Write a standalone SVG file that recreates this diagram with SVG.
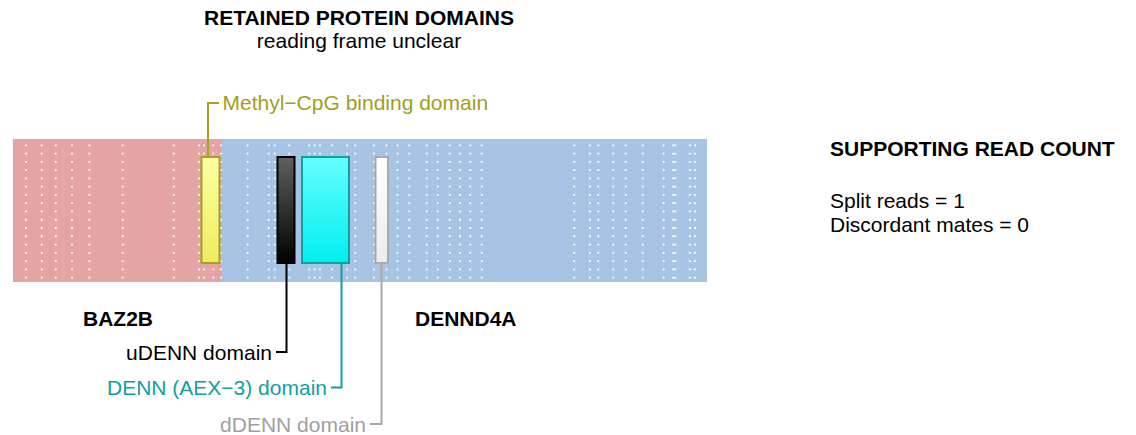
<svg xmlns="http://www.w3.org/2000/svg" width="1136" height="435" viewBox="0 0 1136 435">
<style>
text{font-family:"Liberation Sans",Arial,Helvetica,sans-serif;font-size:21px;fill:#000}
.b{font-weight:bold}
.dot{stroke:#ffffff;stroke-width:1.8;stroke-dasharray:1.8 6.47}
.conn{fill:none;stroke-width:2}
</style>
<defs>
<linearGradient id="gY" x1="0" y1="0" x2="0" y2="1"><stop offset="0" stop-color="#ffffa6"/><stop offset="1" stop-color="#ecec60"/></linearGradient>
<linearGradient id="gK" x1="0" y1="0" x2="0" y2="1"><stop offset="0" stop-color="#606060"/><stop offset="1" stop-color="#000000"/></linearGradient>
<linearGradient id="gC" x1="0" y1="0" x2="0" y2="1"><stop offset="0" stop-color="#66ffff"/><stop offset="1" stop-color="#00eeee"/></linearGradient>
<linearGradient id="gW" x1="0" y1="0" x2="0" y2="1"><stop offset="0" stop-color="#ffffff"/><stop offset="1" stop-color="#ececec"/></linearGradient>
</defs>

<g id="title">
<text class="b" x="359" y="25" text-anchor="middle">RETAINED PROTEIN DOMAINS</text>
<text x="359" y="48" text-anchor="middle">reading frame unclear</text>
</g>

<g id="gene-BAZ2B">
<rect x="13" y="139" width="209" height="143" fill="#e4a4a4"/>
<g class="dot">
<line x1="26" y1="144.4" x2="26" y2="279"/>
<line x1="41.7" y1="144.4" x2="41.7" y2="279"/>
<line x1="55.7" y1="144.4" x2="55.7" y2="279"/>
<line x1="72" y1="144.4" x2="72" y2="279"/>
<line x1="89.3" y1="144.4" x2="89.3" y2="279"/>
<line x1="122.7" y1="144.4" x2="122.7" y2="279"/>
<line x1="173.7" y1="144.4" x2="173.7" y2="279"/>
<line x1="199" y1="144.4" x2="199" y2="279"/>
<line x1="204" y1="144.4" x2="204" y2="279"/>
<line x1="213.3" y1="144.4" x2="213.3" y2="279"/>
</g>
<text class="b" x="83" y="326">BAZ2B</text>
</g>

<g id="gene-DENND4A">
<rect x="222" y="139" width="485" height="143" fill="#a8c4e4"/>
<g class="dot">
<line x1="221" y1="144.4" x2="221" y2="279"/>
<line x1="247.7" y1="144.4" x2="247.7" y2="279"/>
<line x1="268.7" y1="144.4" x2="268.7" y2="279"/>
<line x1="274.7" y1="144.4" x2="274.7" y2="279"/>
<line x1="289.3" y1="144.4" x2="289.3" y2="279"/>
<line x1="309.3" y1="144.4" x2="309.3" y2="279"/>
<line x1="314.7" y1="144.4" x2="314.7" y2="279"/>
<line x1="320" y1="144.4" x2="320" y2="279"/>
<line x1="332" y1="144.4" x2="332" y2="279"/>
<line x1="347" y1="144.4" x2="347" y2="279"/>
<line x1="355.3" y1="144.4" x2="355.3" y2="279"/>
<line x1="374" y1="144.4" x2="374" y2="279"/>
<line x1="386.5" y1="144.4" x2="386.5" y2="279"/>
<line x1="397.5" y1="144.4" x2="397.5" y2="279"/>
<line x1="409.3" y1="144.4" x2="409.3" y2="279"/>
<line x1="426.7" y1="144.4" x2="426.7" y2="279"/>
<line x1="437.7" y1="144.4" x2="437.7" y2="279"/>
<line x1="449.7" y1="144.4" x2="449.7" y2="279"/>
<line x1="460" y1="144.4" x2="460" y2="279"/>
<line x1="470.3" y1="144.4" x2="470.3" y2="279"/>
<line x1="481.7" y1="144.4" x2="481.7" y2="279"/>
<line x1="574.3" y1="144.4" x2="574.3" y2="279"/>
<line x1="590" y1="144.4" x2="590" y2="279"/>
<line x1="598.3" y1="144.4" x2="598.3" y2="279"/>
<line x1="613.3" y1="144.4" x2="613.3" y2="279"/>
<line x1="625.7" y1="144.4" x2="625.7" y2="279"/>
<line x1="642.7" y1="144.4" x2="642.7" y2="279"/>
<line x1="663.7" y1="144.4" x2="663.7" y2="279"/>
<line x1="673.3" y1="144.4" x2="673.3" y2="279"/>
<line x1="675.3" y1="144.4" x2="675.3" y2="279"/>
<line x1="690" y1="144.4" x2="690" y2="279"/>
<line x1="695" y1="144.4" x2="695" y2="279"/>
</g>
<text class="b" x="415" y="326">DENND4A</text>
</g>

<g id="connectors">
<polyline class="conn" stroke="#a8a020" points="208,157 208,103 219,103"/>
<polyline class="conn" stroke="#000000" points="286.5,263 286.5,352 276,352"/>
<polyline class="conn" stroke="#10a0a0" points="341.5,263 341.5,387.5 331,387.5"/>
<polyline class="conn" stroke="#a8a8a8" points="381.5,263 381.5,424 370,424"/>
</g>

<g id="domain-methyl-cpg">
<rect x="201.5" y="157" width="18" height="106" fill="url(#gY)" stroke="#a8a020" stroke-width="2"/>
<text x="222.5" y="110" style="fill:#a0a020">Methyl−CpG binding domain</text>
</g>
<g id="domain-udenn">
<rect x="277.5" y="157" width="17" height="106" fill="url(#gK)" stroke="#000000" stroke-width="2"/>
<text x="272" y="360" text-anchor="end">uDENN domain</text>
</g>
<g id="domain-denn">
<rect x="302" y="157" width="47" height="106" fill="url(#gC)" stroke="#10a0a0" stroke-width="2"/>
<text x="327" y="395" text-anchor="end" style="fill:#10a0a0">DENN (AEX−3) domain</text>
</g>
<g id="domain-ddenn">
<rect x="375.5" y="157" width="12.5" height="106" fill="url(#gW)" stroke="#aaaaaa" stroke-width="2"/>
<text x="366" y="431.5" text-anchor="end" style="fill:#a0a0a0">dDENN domain</text>
</g>

<g id="read-count">
<text class="b" x="830" y="156">SUPPORTING READ COUNT</text>
<text x="830" y="208">Split reads = 1</text>
<text x="830" y="232">Discordant mates = 0</text>
</g>
</svg>
